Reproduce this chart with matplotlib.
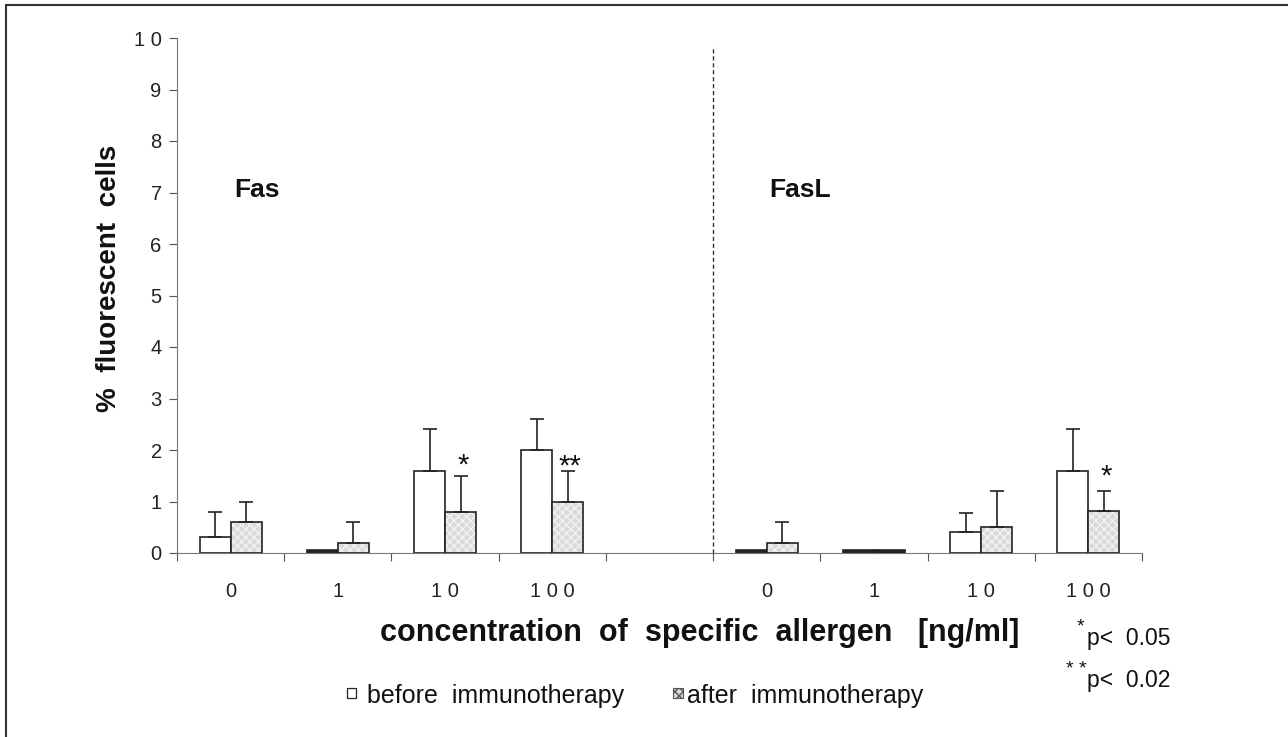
import numpy as np
import matplotlib.pyplot as plt
from matplotlib.patches import Rectangle

plt.rcParams['font.family'] = ['Liberation Sans', 'DejaVu Sans']

# data (Fas: slots 0-3, gap, FasL: slots 5-8)
conc_labels = ['0', '1', '1 0', '1 0 0', '', '0', '1', '1 0', '1 0 0']
before = [0.32, 0.05, 1.6, 2.0, np.nan, 0.05, 0.05, 0.4, 1.6]
before_err = [0.48, 0.0, 0.8, 0.6, np.nan, 0.0, 0.0, 0.38, 0.8]
after = [0.6, 0.2, 0.8, 1.0, np.nan, 0.2, 0.05, 0.5, 0.82]
after_err = [0.4, 0.4, 0.7, 0.6, np.nan, 0.4, 0.0, 0.7, 0.38]
stars = {2: '*', 3: '**', 8: '*'}
star_y = [1.88, 1.85, 1.66]

fig = plt.figure(figsize=(12.88, 7.37), dpi=100)
ax = fig.add_axes([177/1288, 1 - 553/737, 965/1288, 515/737])

x = np.arange(len(conc_labels)) + 0.5
w = 0.29
bef = np.array(before)
aft = np.array(after)
ok = ~np.isnan(bef)

# near-zero bars show up as dark strokes in the original
bef_fc = ['#222222' if v <= 0.05 else 'white' for v in bef[ok]]
aft_fc = ['#222222' if v <= 0.05 else '#d9d9d9' for v in aft[ok]]

ax.bar(x[ok] - w/2, bef[ok], w, color=bef_fc, edgecolor='#222222', lw=1.2, zorder=2)
hb = ax.bar(x[ok] + w/2, aft[ok], w, color=aft_fc, edgecolor='#f2f2f2', hatch='xxxx', lw=0, zorder=2)
for p, v in zip(hb.patches, aft[ok]):
    if v <= 0.05:
        p.set_hatch('')
ax.bar(x[ok] + w/2, aft[ok], w, color='none', edgecolor='#222222', lw=1.2, zorder=3)

for xi, v, e in zip(x[ok] - w/2, bef[ok], np.array(before_err)[ok]):
    if e > 0:
        ax.errorbar(xi, v, yerr=[[0], [e]], fmt='none', ecolor='#222222', elinewidth=1.2, capsize=5, capthick=1.2, zorder=4)
for xi, v, e in zip(x[ok] + w/2, aft[ok], np.array(after_err)[ok]):
    if e > 0:
        ax.errorbar(xi, v, yerr=[[0], [e]], fmt='none', ecolor='#222222', elinewidth=1.2, capsize=5, capthick=1.2, zorder=4)

fs_star = 21
for (i, s), sy in zip(stars.items(), star_y):
    ax.annotate(s, (x[i] + w/2 + 0.02, sy), xytext=(0, -0.58 * fs_star), textcoords='offset points',
                ha='center', va='baseline', fontsize=fs_star, color='#111111')

ax.set_xlim(0, 9)
ax.set_ylim(0, 10)
ax.set_yticks(range(11))
ax.set_yticklabels([str(i) if i < 10 else '1 0' for i in range(11)], fontsize=14.5, color='#222222')
ax.set_xticks(np.arange(10))
ax.set_xticklabels([])
ax.set_xticks(x, minor=True)
ax.set_xticklabels(conc_labels, minor=True, fontsize=14.5, color='#222222')
ax.tick_params(axis='x', which='major', direction='out', length=6, color='#555555')
ax.tick_params(axis='x', which='minor', length=0, pad=21)
ax.tick_params(axis='y', direction='out', length=6, color='#555555', pad=5)
for s in ['top', 'right']:
    ax.spines[s].set_visible(False)
ax.spines['left'].set_color('#777777')
ax.spines['bottom'].set_color('#777777')

ax.axvline(5, ymax=0.985, color='#333333', ls=(0, (3, 2)), lw=1)

ax.text(0.53, 6.91, 'Fas', fontsize=19, fontweight='bold', va='baseline', color='#111111')
ax.text(5.52, 6.91, 'FasL', fontsize=19, fontweight='bold', va='baseline', color='#111111')

fig.text(109/1288, 1 - 278/737, '%  fluorescent  cells', rotation=90, ha='center', va='center',
         fontsize=20, fontweight='bold', color='#111111')
fig.text(700/1288, 1 - 633/737, 'concentration  of  specific  allergen   [ng/ml]',
         ha='center', va='center', fontsize=22, fontweight='bold', color='#111111')

# legend
fig.patches.append(Rectangle((347/1288, 1 - 698/737), 9/1288, 10/737, transform=fig.transFigure,
                             facecolor='white', edgecolor='#222222', lw=0.9))
fig.text(367/1288, 1 - 703/737, 'before  immunotherapy', ha='left', va='baseline', fontsize=18, color='#111111')
fig.patches.append(Rectangle((673/1288, 1 - 698/737), 10/1288, 10/737, transform=fig.transFigure,
                             facecolor='#d9d9d9', edgecolor='#555555', hatch='xxxx', lw=0.8))
fig.text(687/1288, 1 - 703/737, 'after  immunotherapy', ha='left', va='baseline', fontsize=18, color='#111111')

fig.text(1080/1288, 1 - 627/737, '*', ha='center', va='center', fontsize=14, color='#111111')
fig.text(1087/1288, 1 - 638/737, 'p<  0.05', ha='left', va='center', fontsize=16.5, color='#111111')
fig.text(1076/1288, 1 - 670/737, '* *', ha='center', va='center', fontsize=14, color='#111111')
fig.text(1087/1288, 1 - 681/737, 'p<  0.02', ha='left', va='center', fontsize=16.5, color='#111111')

# frame around the figure (left and top edges visible)
fig.patches.append(Rectangle((6/1288, -0.05), 1.1, 1 - 5/737 + 0.05, transform=fig.transFigure,
                             facecolor='none', edgecolor='#333333', lw=1.5))

fig.savefig('out.png', dpi=100)
